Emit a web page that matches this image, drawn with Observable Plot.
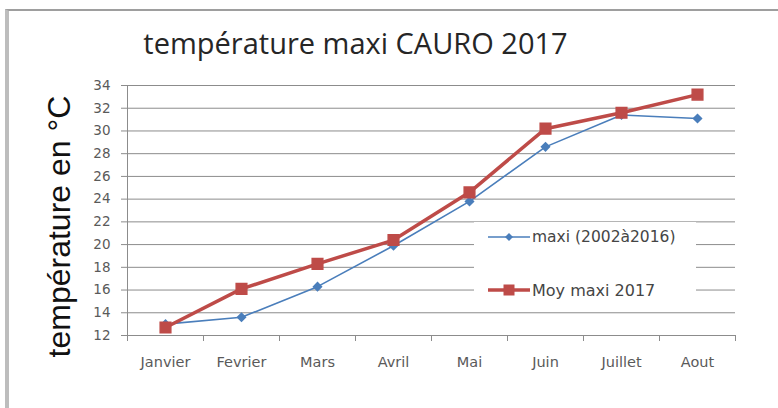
<!DOCTYPE html>
<html>
<head>
<meta charset="utf-8">
<script src="https://cdn.jsdelivr.net/npm/d3@7"></script>
<script src="https://cdn.jsdelivr.net/npm/@observablehq/plot@0.6"></script>
<style>
  html, body { margin: 0; padding: 0; background: #fff; }
  #wrap { position: relative; width: 778px; height: 408px; overflow: hidden; }
  #frame { position: absolute; left: 5px; top: 9px; right: -10px; bottom: -10px;
           border-left: 4px solid #bdbdbd; border-top: 2px solid #9e9e9e; }
  #chart { position: absolute; left: 0; top: 0; }
  #legend { position: absolute; left: 474px; top: 222px; width: 222px; height: 86px; background: #fff;
            font-family: "DejaVu Sans", sans-serif; color: #454545; }
  .row { position: absolute; left: 14px; height: 18px; display: flex; align-items: center; white-space: nowrap; }
  .row span { margin-left: 2px; }
</style>
</head>
<body>
<div id="wrap">
  <div id="frame"></div>
  <div id="chart"></div>
  <div id="legend"></div>
</div>
<script>
const months = ["Janvier", "Fevrier", "Mars", "Avril", "Mai", "Juin", "Juillet", "Aout"];
const maxi2002_2016 = [13.0, 13.6, 16.3, 19.9, 23.8, 28.6, 31.4, 31.1];
const moyMaxi2017 = [12.7, 16.1, 18.3, 20.4, 24.6, 30.2, 31.6, 33.2];
const yTicks = [12, 14, 16, 18, 20, 22, 24, 26, 28, 30, 32, 34];
const seriesNames = ["maxi (2002à2016)", "Moy maxi 2017"];
const title = "température maxi CAURO 2017";
const yLabel = "température en °C";

const blue = "#4a7ebb";
const red = "#be4b48";

const idx = months.map((_, i) => i);
const boundaries = d3.range(-0.5, months.length, 1);
const blueData = idx.map(i => ({i, v: maxi2002_2016[i]}));
const redData = idx.map(i => ({i, v: moyMaxi2017[i]}));

const tickFont = "'DejaVu Sans', sans-serif";

const chart = Plot.plot({
  width: 778,
  height: 408,
  marginLeft: 127,
  marginRight: 43,
  marginTop: 85,
  marginBottom: 73,
  style: {background: "transparent", fontFamily: tickFont},
  x: {domain: [-0.5, months.length - 0.5], axis: null},
  y: {domain: [12, 34], axis: null},
  marks: [
    Plot.gridY(yTicks, {stroke: "#8c8c8c", strokeOpacity: 1, strokeWidth: 1}),
    Plot.axisY(yTicks, {tickSize: 6, tickPadding: 11, stroke: "#8c8c8c", fill: "#5a5a5a", fontSize: 13.5, fontFamily: tickFont, label: null}),
    Plot.ruleX([-0.5], {stroke: "#8c8c8c"}),
    Plot.ruleY([12], {stroke: "#8c8c8c"}),
    Plot.axisX(boundaries, {tickSize: 6, tickFormat: () => "", stroke: "#8c8c8c", label: null}),
    Plot.axisX(idx, {tickSize: 0, tickPadding: 21, tickFormat: i => months[i], fill: "#5a5a5a", fontSize: 14.5, fontFamily: tickFont, label: null}),
    Plot.line(blueData, {x: "i", y: "v", stroke: blue, strokeWidth: 1.6}),
    Plot.dot(blueData, {x: "i", y: "v", symbol: "diamond2", r: 3.6, fill: blue, stroke: blue}),
    Plot.line(redData, {x: "i", y: "v", stroke: red, strokeWidth: 3.5}),
    Plot.dot(redData, {x: "i", y: "v", symbol: "square", r: 6, fill: red, stroke: red}),
    Plot.text([title], {frameAnchor: "top", lineAnchor: "middle", textAnchor: "middle", dx: -76, dy: -41,
      fontSize: 29, fill: "#262626", fontFamily: "'Open Sans', sans-serif"}),
    Plot.text([yLabel], {frameAnchor: "left", lineAnchor: "middle", textAnchor: "middle", dx: -68, dy: 16, rotate: -90,
      fontSize: 32, fill: "#111", fontFamily: "'Liberation Sans', Arial, sans-serif"})
  ]
});
document.getElementById("chart").appendChild(chart);

// Legend
const legend = document.getElementById("legend");
const legendItems = [
  {name: seriesNames[0], color: blue, width: 1.6, symbol: "diamond", top: 6, size: 15.5},
  {name: seriesNames[1], color: red, width: 3.5, symbol: "square", top: 59, size: 16}
];
legendItems.forEach(it => {
  const row = document.createElement("div");
  row.className = "row";
  row.style.top = it.top + "px";
  row.style.fontSize = it.size + "px";
  const sw = d3.create("svg").attr("width", 42).attr("height", 18);
  sw.append("line").attr("x1", 0).attr("x2", 42).attr("y1", 9).attr("y2", 9)
    .attr("stroke", it.color).attr("stroke-width", it.width);
  if (it.symbol === "diamond") {
    sw.append("path").attr("d", "M21,5L25,9L21,13L17,9Z").attr("fill", it.color);
  } else {
    sw.append("rect").attr("x", 15.5).attr("y", 3.5).attr("width", 11).attr("height", 11).attr("fill", it.color);
  }
  row.appendChild(sw.node());
  const t = document.createElement("span");
  t.textContent = it.name;
  row.appendChild(t);
  legend.appendChild(row);
});
</script>
</body>
</html>
